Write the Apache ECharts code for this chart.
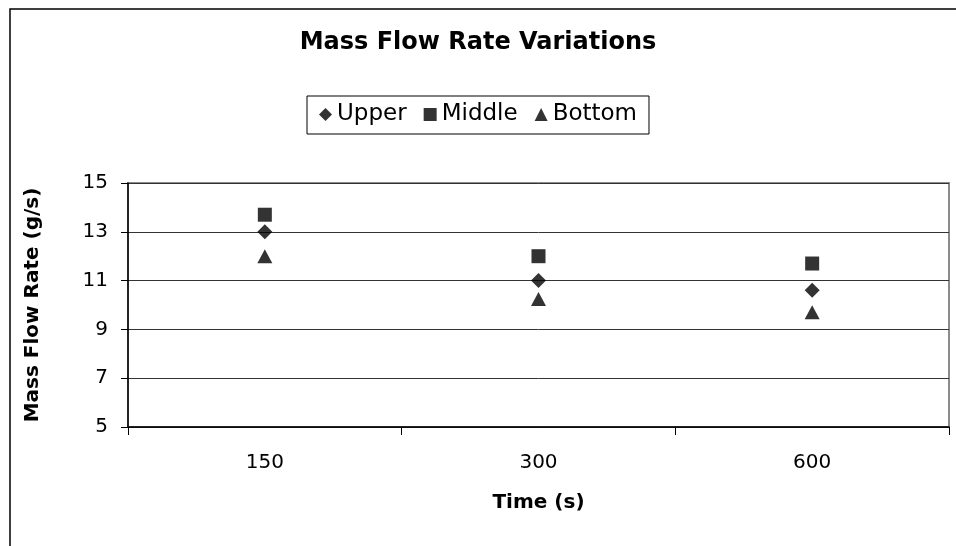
<!DOCTYPE html>
<html>
<head>
<meta charset="utf-8">
<script src="https://cdn.jsdelivr.net/npm/echarts@6/dist/echarts.min.js"></script>
<style>
  html, body { margin: 0; padding: 0; background: #fff; }
</style>
</head>
<body>
<div id="chartDom" style="width: 956px;height: 546px"></div>
<script>
// 数据
const times = ['150', '300', '600']
const upper = [13.0, 11.0, 10.6]
const middle = [13.7, 12.0, 11.7]
const bottom = [12.0, 10.25, 9.7]

// 原图字体偏宽, 用 DejaVu Sans 接近
const font = '"DejaVu Sans", sans-serif'

let chart = echarts.init(document.querySelector('#chartDom'))
chart.setOption({
  backgroundColor: '#fff',
  animation: false,
  title: {
    text: 'Mass Flow Rate Variations',
    left: 'center',
    top: 26,
    textStyle: { fontFamily: font, fontSize: 24, fontWeight: 'bold', color: '#000' },
  },
  legend: {
    left: 'center',
    top: 96,
    padding: [7, 12, 8, 12],
    borderColor: '#000',
    borderWidth: 1,
    itemWidth: 13,
    itemHeight: 13,
    itemGap: 17,
    textStyle: { fontFamily: font, fontSize: 23, color: '#000', padding: [0, 0, 0, 0] },
    data: [
      { name: 'Upper', icon: 'diamond' },
      { name: 'Middle', icon: 'rect' },
      { name: 'Bottom', icon: 'triangle' },
    ],
  },
  // 外框
  graphic: [
    {
      type: 'polyline',
      shape: { points: [[10, 546], [10, 9], [956, 9]] },
      style: { stroke: '#000', lineWidth: 1.5, fill: null },
      silent: true,
    },
  ],
  grid: {
    left: 128,
    right: 7,
    top: 183,
    bottom: 119,
    show: true,
    borderColor: '#8c8c8c',
    borderWidth: 2,
  },
  xAxis: {
    type: 'category',
    data: times,
    boundaryGap: true,
    name: 'Time (s)',
    nameLocation: 'middle',
    nameGap: 66,
    nameTextStyle: { fontFamily: font, fontSize: 20, fontWeight: 'bold', color: '#000' },
    axisLine: { show: true, lineStyle: { color: '#000', width: 1.5 } },
    axisTick: { show: true, interval: 0, alignWithLabel: false, length: 8, lineStyle: { color: '#000' } },
    axisLabel: { fontFamily: font, fontSize: 20, color: '#000', margin: 26 },
    splitLine: { show: false },
  },
  yAxis: {
    type: 'value',
    min: 5,
    max: 15,
    interval: 2,
    name: 'Mass Flow Rate (g/s)',
    nameLocation: 'middle',
    nameGap: 85,
    nameRotate: 90,
    nameTextStyle: { fontFamily: font, fontSize: 20, fontWeight: 'bold', color: '#000' },
    axisLine: { show: true, lineStyle: { color: '#000', width: 1.5 } },
    axisTick: { show: true, length: 7, lineStyle: { color: '#000' } },
    axisLabel: { fontFamily: font, fontSize: 20, color: '#000', margin: 20 },
    splitLine: { show: true, lineStyle: { color: '#333', width: 1 } },
  },
  series: [
    {
      name: 'Upper',
      type: 'scatter',
      symbol: 'diamond',
      symbolSize: [15, 15],
      itemStyle: { color: '#000' },
      data: upper,
      z: 3,
    },
    {
      name: 'Middle',
      type: 'scatter',
      symbol: 'rect',
      symbolSize: 14,
      itemStyle: { color: '#000' },
      data: middle,
      z: 3,
    },
    {
      name: 'Bottom',
      type: 'scatter',
      symbol: 'triangle',
      symbolSize: [15, 14],
      itemStyle: { color: '#000' },
      data: bottom,
      z: 3,
    },
  ],
})
</script>
</body>
</html>
